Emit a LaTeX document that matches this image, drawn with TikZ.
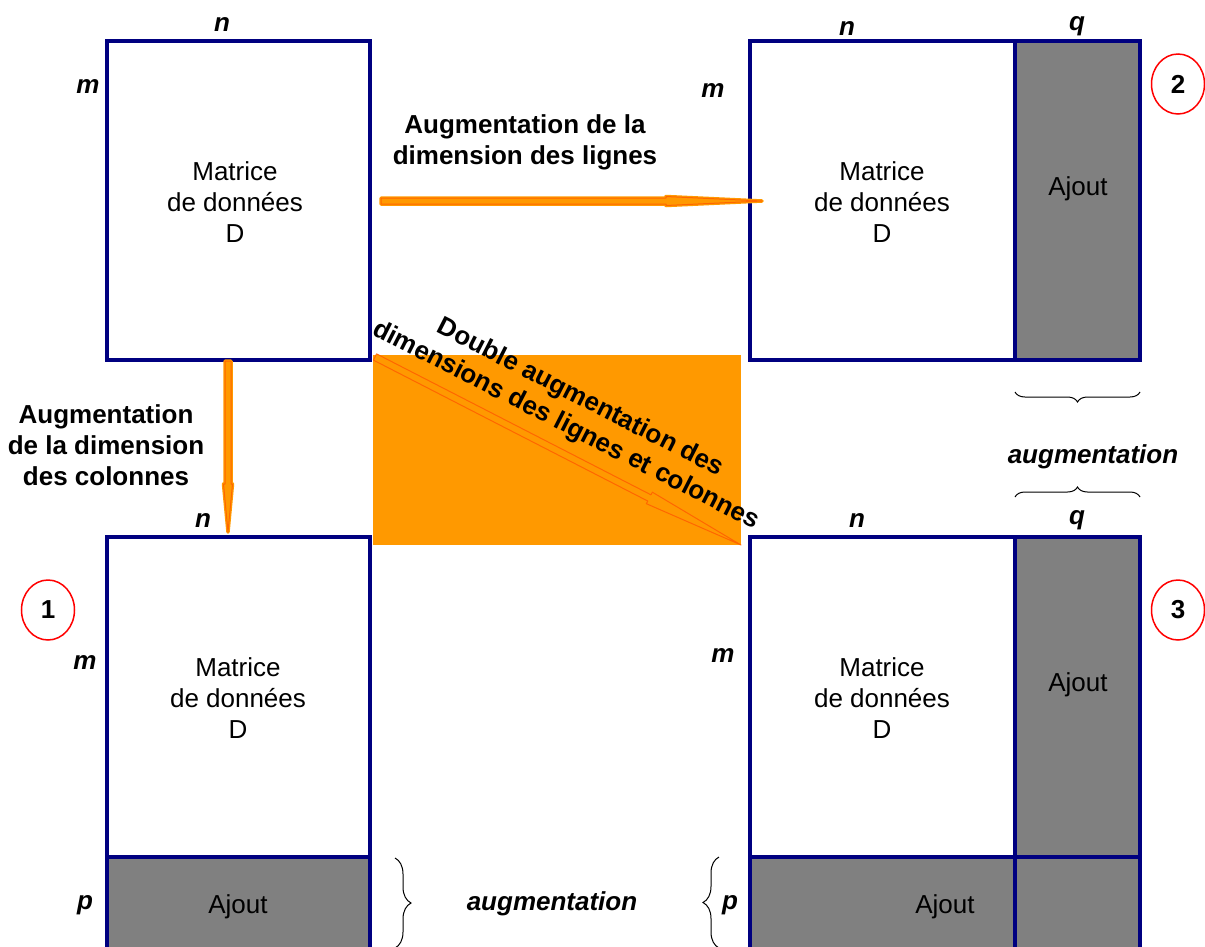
\documentclass[tikz,border=0pt]{standalone}
\usepackage{fontspec}
\setmainfont{Liberation Sans}
\usetikzlibrary{calc,shapes.geometric,decorations.pathreplacing}

\definecolor{boxblue}{RGB}{0,0,128}
\definecolor{ajoutgray}{RGB}{128,128,128}
\definecolor{flecheorange}{RGB}{255,153,0}
\definecolor{flechetrait}{RGB}{255,102,0}

% block arrow from #2 to #3: head length #4, half shaft #5, half head #6
\newcommand{\blocfleche}[6][]{%
  \coordinate (tete) at ($(#3)!#4!(#2)$);
  \draw[#1] ($(#2)!#5!90:(#3)$) -- ($(tete)!#5!90:(#3)$) -- ($(tete)!#6!90:(#3)$) -- (#3)
    -- ($(tete)!#6!-90:(#3)$) -- ($(tete)!#5!-90:(#3)$) -- ($(#2)!#5!-90:(#3)$) -- cycle;
}

\begin{document}
\begin{tikzpicture}[x=1pt, y=-1pt,
    cadre/.style={draw=boxblue, line width=3.5pt},
    ajout/.style={fill=ajoutgray},
    texte/.style={font=\fontsize{26}{31}\selectfont, align=center},
    titre/.style={font=\fontsize{26}{31}\selectfont\bfseries, align=center},
    dim/.style={font=\fontsize{26}{31}\selectfont\bfseries\itshape, anchor=base},
    numero/.style={ellipse, draw=red, line width=1.5pt, minimum width=53pt, minimum height=60pt,
      inner sep=0pt, font=\fontsize{26}{31}\selectfont\bfseries},
    accolade/.style={decorate, decoration={brace, amplitude=#1}, line width=1pt},
    fleche/.style={fill=flecheorange, draw=flechetrait, line width=1pt, line join=round,
      preaction={draw=flecheorange, line width=3.5pt, line join=round}},
    flechediag/.style={draw=flechetrait, line width=1pt, line join=round}]

  \useasboundingbox (0,0) rectangle (1205,946);
  \clip (0,0) rectangle (1205,946);

  % Background of the diagonal arrow
  \fill[flecheorange] (373,355) rectangle (741,545);

  % Grey added parts
  \fill[ajout] (1015,41) rectangle (1140,360);
  \fill[ajout] (107,857) rectangle (370,960);
  \fill[ajout] (1015,537) rectangle (1140,960);
  \fill[ajout] (750,857) rectangle (1140,960);

  % Matrix outlines
  \draw[cadre] (107,41) rectangle (370,360);
  \draw[cadre] (750,41) rectangle (1140,360);
  \draw[cadre] (1015,41) -- (1015,360);
  \draw[cadre] (107,537) rectangle (370,960);
  \draw[cadre] (107,857) -- (370,857);
  \draw[cadre] (750,537) rectangle (1140,960);
  \draw[cadre] (1015,537) -- (1015,960);
  \draw[cadre] (750,857) -- (1140,857);

  % Texts inside the matrices
  \node[texte] (mat0) at (235,202) {Matrice\\de données\\D};
  \node[texte] (mat2) at (882,202) {Matrice\\de données\\D};
  \node[texte] (mat1) at (238,698) {Matrice\\de données\\D};
  \node[texte] (mat3) at (882,698) {Matrice\\de données\\D};
  \node[texte] (aj2) at (1078,189) {Ajout};
  \node[texte] (aj3a) at (1078,685) {Ajout};
  \node[texte] (aj1) at (238,907) {Ajout};
  \node[texte] (aj3b) at (945,907) {Ajout};

  % Dimensions
  \node[dim] (n0) at (222,31) {n};
  \node[dim] (m0) at (88,93) {m};
  \node[dim] (n2) at (847,35) {n};
  \node[dim] (q2) at (1077,30) {q};
  \node[dim] (m2) at (713,97) {m};
  \node[dim] (n1) at (203,527) {n};
  \node[dim] (m1) at (85,669) {m};
  \node[dim] (p1) at (85,909) {p};
  \node[dim] (n3) at (857,527) {n};
  \node[dim] (q3) at (1077,524) {q};
  \node[dim] (m3) at (723,662) {m};
  \node[dim] (p3) at (730,909) {p};
  \node[dim] (aug2) at (1093,463) {augmentation};
  \node[dim] (aug1) at (552,910) {augmentation};

  % Braces
  \draw[accolade=10pt] (1140,392) -- (1015,392);
  \draw[accolade=10pt] (1015,497) -- (1140,497);
  \draw[accolade=16pt] (395,858) -- (395,948);
  \draw[accolade=16pt] (719,948) -- (719,857);

  % Case numbers
  \node[numero] (c1) at (48,610) {1};
  \node[numero] (c2) at (1178,84) {2};
  \node[numero] (c3) at (1178,610) {3};

  % Arrows
  \coordinate (hdeb) at (381,201);
  \coordinate (hfin) at (762,201);
  \coordinate (vdeb) at (228,361);
  \coordinate (vfin) at (228,532);
  \coordinate (ddeb) at (375,357);
  \coordinate (dfin) at (741,545);
  \blocfleche[fleche]{hdeb}{hfin}{96pt}{3pt}{4.5pt}
  \blocfleche[fleche]{vdeb}{vfin}{48pt}{3pt}{4.5pt}
  \blocfleche[flechediag]{ddeb}{dfin}{103pt}{3.5pt}{6.5pt}

  % Arrow labels
  \node[titre] (lignes) at (525,142) {Augmentation de la\\dimension des lignes};
  \node[titre] (colonnes) at (106,445) {Augmentation\\de la dimension\\des colonnes};
  \node[titre, rotate=-27] (double) at (573,412) {Double augmentation des\\dimensions des lignes et colonnes};

\end{tikzpicture}
\end{document}
